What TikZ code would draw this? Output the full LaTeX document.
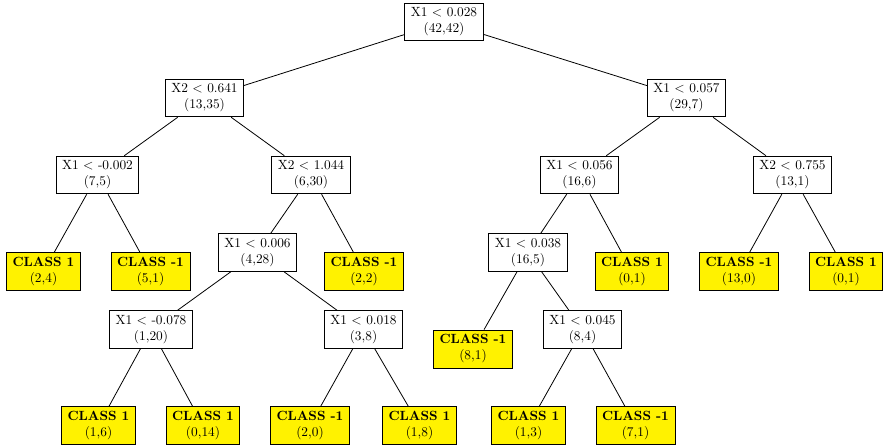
\documentclass[tikz,border=0pt]{standalone}
\begin{document}
\begin{tikzpicture}[x=0.75pt,y=-0.75pt,
  split/.style={draw=black,fill=white,line width=0.6pt,align=center,inner xsep=4.5pt,inner ysep=3.5pt},
  leaf/.style={draw=black,fill=yellow,line width=0.6pt,align=center,inner xsep=4.5pt,inner ysep=3.5pt},
  edge/.style={draw=black,line width=0.6pt}]
\useasboundingbox (0,0) rectangle (883,445);
% level 0
\node[split] (n0) at (444,22) {X1 $<$ 0.028\\(42,42)};
% level 1
\node[split] (n1) at (204.5,98) {X2 $<$ 0.641\\(13,35)};
\node[split] (n2) at (686.5,98) {X1 $<$ 0.057\\(29,7)};
% level 2
\node[split] (n3) at (97.5,175) {X1 $<$ -0.002\\(7,5)};
\node[split] (n4) at (311,175) {X2 $<$ 1.044\\(6,30)};
\node[split] (n5) at (579.5,175) {X1 $<$ 0.056\\(16,6)};
\node[split] (n6) at (792.5,175) {X2 $<$ 0.755\\(13,1)};
% level 3
\node[leaf] (l1) at (43.5,271.5) {\textbf{CLASS 1}\\(2,4)};
\node[leaf] (l2) at (150.5,271.5) {\textbf{CLASS -1}\\(5,1)};
\node[split] (n7) at (257.5,252.5) {X1 $<$ 0.006\\(4,28)};
\node[leaf] (l3) at (364,271.5) {\textbf{CLASS -1}\\(2,2)};
\node[split] (n8) at (528,252.5) {X1 $<$ 0.038\\(16,5)};
\node[leaf] (l4) at (632,271.5) {\textbf{CLASS 1}\\(0,1)};
\node[leaf] (l5) at (739,271.5) {\textbf{CLASS -1}\\(13,0)};
\node[leaf] (l6) at (846,271.5) {\textbf{CLASS 1}\\(0,1)};
% level 4
\node[split] (n9) at (151,329.5) {X1 $<$ -0.078\\(1,20)};
\node[split] (n10) at (363.5,329.5) {X1 $<$ 0.018\\(3,8)};
\node[leaf] (l7) at (473,349) {\textbf{CLASS -1}\\(8,1)};
\node[split] (n11) at (582.5,329.5) {X1 $<$ 0.045\\(8,4)};
% level 5
\node[leaf] (l8) at (98.5,425.5) {\textbf{CLASS 1}\\(1,6)};
\node[leaf] (l9) at (203,425.5) {\textbf{CLASS 1}\\(0,14)};
\node[leaf] (l10) at (310,425.5) {\textbf{CLASS -1}\\(2,0)};
\node[leaf] (l11) at (419.5,425.5) {\textbf{CLASS 1}\\(1,8)};
\node[leaf] (l12) at (528.5,425.5) {\textbf{CLASS 1}\\(1,3)};
\node[leaf] (l13) at (635.5,425.5) {\textbf{CLASS -1}\\(7,1)};
% edges
\draw[edge] (n0) -- (n1);
\draw[edge] (n0) -- (n2);
\draw[edge] (n1) -- (n3);
\draw[edge] (n1) -- (n4);
\draw[edge] (n2) -- (n5);
\draw[edge] (n2) -- (n6);
\draw[edge] (n3) -- (l1);
\draw[edge] (n3) -- (l2);
\draw[edge] (n4) -- (n7);
\draw[edge] (n4) -- (l3);
\draw[edge] (n5) -- (n8);
\draw[edge] (n5) -- (l4);
\draw[edge] (n6) -- (l5);
\draw[edge] (n6) -- (l6);
\draw[edge] (n7) -- (n9);
\draw[edge] (n7) -- (n10);
\draw[edge] (n8) -- (l7);
\draw[edge] (n8) -- (n11);
\draw[edge] (n9) -- (l8);
\draw[edge] (n9) -- (l9);
\draw[edge] (n10) -- (l10);
\draw[edge] (n10) -- (l11);
\draw[edge] (n11) -- (l12);
\draw[edge] (n11) -- (l13);
\end{tikzpicture}
\end{document}
